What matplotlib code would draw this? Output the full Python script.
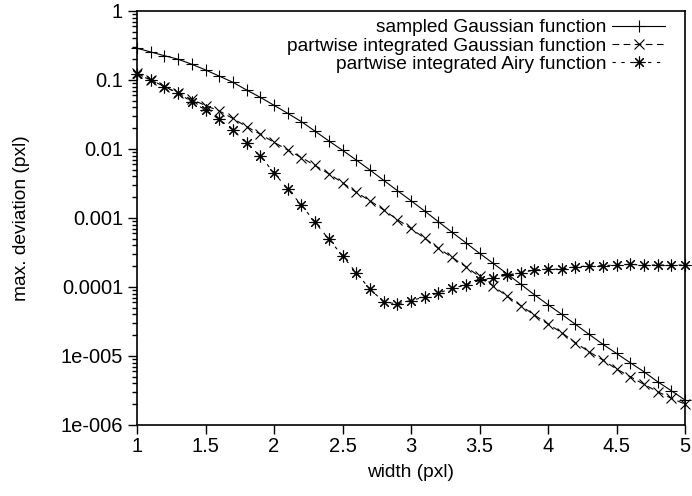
import matplotlib
matplotlib.use("Agg")
import matplotlib.pyplot as plt
from matplotlib.ticker import FixedLocator, LogLocator, NullFormatter

plt.rcParams['font.family'] = ['Liberation Sans', 'DejaVu Sans']

# width of the profile (pxl)
widths = [1.0, 1.1, 1.2, 1.3, 1.4, 1.5, 1.6, 1.7, 1.8, 1.9,
          2.0, 2.1, 2.2, 2.3, 2.4, 2.5, 2.6, 2.7, 2.8, 2.9,
          3.0, 3.1, 3.2, 3.3, 3.4, 3.5, 3.6, 3.7, 3.8, 3.9,
          4.0, 4.1, 4.2, 4.3, 4.4, 4.5, 4.6, 4.7, 4.8, 4.9, 5.0]

# max. deviation (pxl)
sampled_gauss = [0.288, 0.255, 0.225, 0.200, 0.169, 0.140, 0.114, 0.0926, 0.0716, 0.0561,
                 0.0430, 0.0329, 0.0249, 0.0181, 0.0131, 0.00958, 0.00693, 0.00497, 0.00352, 0.00250,
                 0.00178, 0.00126, 0.000883, 0.000620, 0.000438, 0.000308, 0.000220, 0.000156, 0.000110, 7.73e-5,
                 5.54e-5, 4.02e-5, 2.88e-5, 2.06e-5, 1.48e-5, 1.09e-5, 8.0e-6, 5.92e-6, 4.24e-6, 3.14e-6, 2.30e-6]
integrated_gauss = [0.125, 0.100, 0.0805, 0.0648, 0.0522, 0.0427, 0.0356, 0.0277, 0.0211, 0.0164,
                    0.0125, 0.00967, 0.00753, 0.00577, 0.00437, 0.00325, 0.00236, 0.00178, 0.00131, 0.000951,
                    0.000705, 0.000508, 0.000364, 0.000269, 0.000197, 0.000142, 0.000103, 7.41e-5, 5.39e-5, 3.93e-5,
                    2.91e-5, 2.18e-5, 1.56e-5, 1.15e-5, 8.75e-6, 6.48e-6, 5.01e-6, 3.89e-6, 3.04e-6, 2.44e-6, 2.01e-6]
integrated_airy = [0.122, 0.100, 0.080, 0.0641, 0.0485, 0.0367, 0.0269, 0.0188, 0.0121, 0.00792,
                   0.00452, 0.00263, 0.00154, 0.000866, 0.000493, 0.000284, 0.000161, 9.35e-5, 6.12e-5, 5.67e-5,
                   6.37e-5, 7.16e-5, 8.18e-5, 9.57e-5, 0.000107, 0.000125, 0.000134, 0.000149, 0.000161, 0.000176,
                   0.000182, 0.000181, 0.000197, 0.000201, 0.000204, 0.000208, 0.000213, 0.000208, 0.000208, 0.000208,
                   0.000208]

x_ticks = [1, 1.5, 2, 2.5, 3, 3.5, 4, 4.5, 5]
x_tick_labels = ['1', '1.5', '2', '2.5', '3', '3.5', '4', '4.5', '5']
y_ticks = [1, 0.1, 0.01, 0.001, 0.0001, 1e-5, 1e-6]
y_tick_labels = ['1', '0.1', '0.01', '0.001', '0.0001', '1e-005', '1e-006']

fs = 13.8

fig = plt.figure(figsize=(6.92, 4.96), dpi=100)
ax = fig.add_axes([137 / 692, 71 / 496, 548 / 692, 414 / 496])

# gnuplot does not clip points at the border, so neither do we
ax.plot(widths, sampled_gauss, color='black', lw=0.8, marker='+', ms=8, mew=0.8,
        clip_on=False, label='sampled Gaussian function')
ax.plot(widths, integrated_gauss, color='black', lw=0.8, ls=(0, (6, 4)), marker='x', ms=6.5, mew=0.8,
        clip_on=False, label='partwise integrated Gaussian function')
ax.plot(widths, integrated_airy, color='black', lw=0.8, ls=(0, (3, 5)), marker=(8, 2, 0), ms=8.5, mew=0.8,
        clip_on=False, label='partwise integrated Airy function')

ax.set_yscale('log')
ax.set_xlim(1, 5)
ax.set_ylim(1e-6, 1)

ax.xaxis.set_major_locator(FixedLocator(x_ticks))
ax.set_xticklabels(x_tick_labels)
ax.yaxis.set_major_locator(FixedLocator(y_ticks))
ax.set_yticklabels(y_tick_labels)
ax.yaxis.set_minor_locator(LogLocator(base=10, subs=range(2, 10)))
ax.yaxis.set_minor_formatter(NullFormatter())

ax.tick_params(which='both', direction='out', top=False, right=False, width=1, labelsize=14.5)
ax.tick_params(which='major', length=6.5, pad=2)
ax.tick_params(axis='y', which='major', pad=3.5)
ax.tick_params(which='minor', length=3.5)
for s in ax.spines.values():
    s.set_linewidth(1.2)

ax.set_xlabel('width (pxl)', fontsize=fs, labelpad=6)
ax.set_ylabel('max. deviation (pxl)', fontsize=fs, labelpad=22)

ax.legend(loc='upper right', bbox_to_anchor=(1 - 20 / 548, 1 - 8 / 414), borderaxespad=0,
          markerfirst=False, frameon=False, fontsize=fs, handlelength=2.75,
          handletextpad=0.3, labelspacing=0.05, borderpad=0)

plt.savefig('out.png', dpi=100)
